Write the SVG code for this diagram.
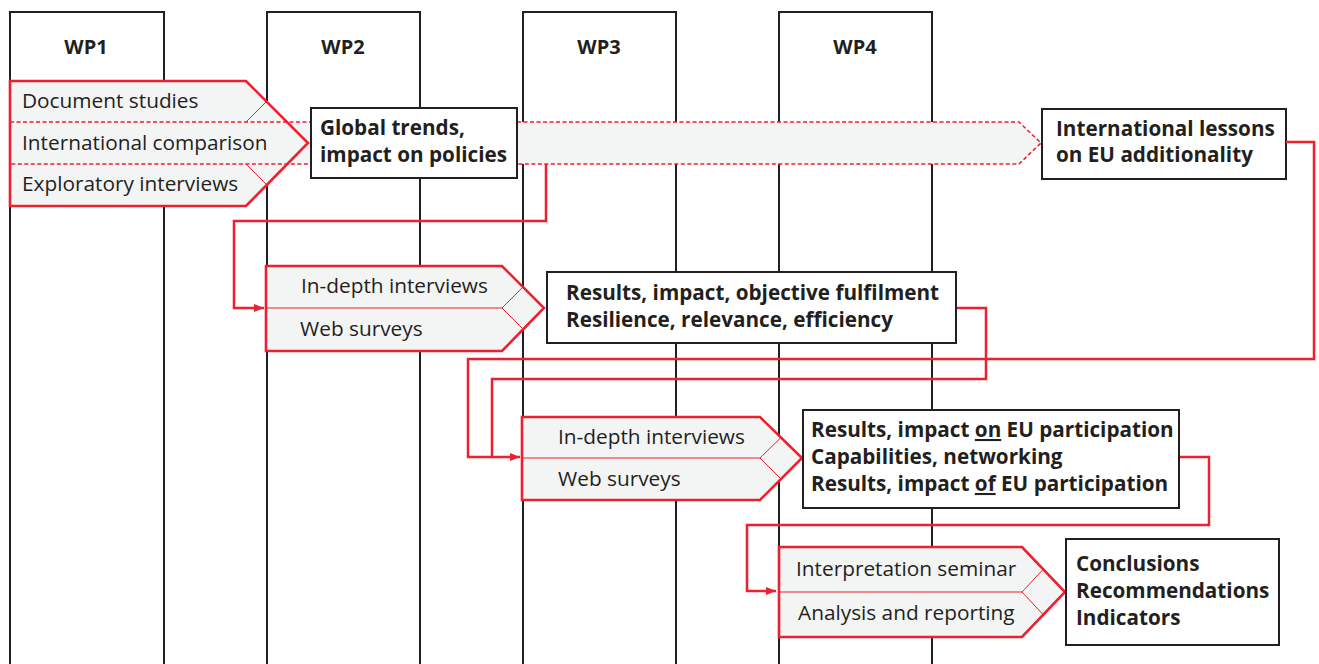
<svg xmlns="http://www.w3.org/2000/svg" width="1319" height="664" viewBox="0 0 1319 664">
<style>
.col{fill:none;stroke:#231f20;stroke-width:2}
.wp{font-family:"Open Sans","Noto Sans",sans-serif;font-weight:bold;font-size:20px;fill:#231f20;text-anchor:middle}
.chf{fill:#f3f4f4;stroke:none}
.cho{fill:none;stroke:#ed2030;stroke-width:2.6;stroke-linejoin:miter}
.chl{fill:none;stroke:#ed2030;stroke-width:1}
.band{fill:#f3f4f4;stroke:#ed2030;stroke-width:1.5;stroke-dasharray:4 2.5}
.reg{font-family:"Open Sans","Noto Sans",sans-serif;font-size:20.8px;fill:#231f20}
.bold{font-family:"Open Sans","Noto Sans",sans-serif;font-weight:bold;font-size:20.7px;fill:#231f20}
.box{fill:#fff;stroke:#231f20;stroke-width:2}
.con{fill:none;stroke:#ed2030;stroke-width:2.5}
.ul{text-decoration:underline}
</style>
<defs>
<marker id="ah" markerUnits="userSpaceOnUse" markerWidth="12" markerHeight="10" refX="10" refY="4" orient="auto">
<path d="M0,0 L10,4 L0,8 Z" fill="#ed2030"/>
</marker>
</defs>

<g id="columns">
<path class="col" d="M10,664 V12 H164 V664"/>
<path class="col" d="M267,664 V12 H420 V664"/>
<path class="col" d="M523,664 V12 H676 V664"/>
<path class="col" d="M779,664 V12 H932 V664"/>
<text class="wp" x="86" y="54">WP1</text>
<text class="wp" x="343" y="54">WP2</text>
<text class="wp" x="599" y="54">WP3</text>
<text class="wp" x="855" y="54">WP4</text>
</g>

<g id="wp1-activities">
<path class="chf" d="M10,81 H246 L308,143 L246,206 H10 Z"/>
</g>

<g id="band">
<path class="band" d="M10,122 H1019 L1041,143 L1019,164 H10 Z"/>
</g>

<g id="wp1-outline">
<path class="cho" d="M10,81 H246 L308,143 L246,206 H10 Z"/>
<path class="chl" d="M246,122 L266.5,101.5 M246,164 L267,185"/>
<text class="reg" x="22" y="108">Document studies</text>
<text class="reg" x="22" y="150">International comparison</text>
<text class="reg" x="22" y="191">Exploratory interviews</text>
</g>

<g id="global-trends">
<rect class="box" x="311" y="108" width="206" height="70"/>
<text class="bold" x="320" y="135">Global trends,</text>
<text class="bold" x="320" y="162">impact on policies</text>
</g>

<g id="intl-lessons">
<rect class="box" x="1042" y="109" width="244" height="70"/>
<text class="bold" x="1056" y="136">International lessons</text>
<text class="bold" x="1056" y="162">on EU additionality</text>
</g>

<g id="wp2-activities">
<path class="chf" d="M266,266 H502 L544,308 L502,351 H266 Z"/>
<path class="cho" d="M266,266 H502 L544,308 L502,351 H266 Z"/>
<path class="chl" d="M266,308 H502 L523,287 M502,308 L523,329"/>
<text class="reg" x="301" y="293">In-depth interviews</text>
<text class="reg" x="300" y="336">Web surveys</text>
</g>

<g id="wp3-activities">
<path class="chf" d="M522,417 H760 L802,458 L760,500 H522 Z"/>
<path class="cho" d="M522,417 H760 L802,458 L760,500 H522 Z"/>
<path class="chl" d="M522,458 H760 L781,437.5 M760,458 L781,479"/>
<text class="reg" x="558" y="444">In-depth interviews</text>
<text class="reg" x="558" y="486">Web surveys</text>
</g>

<g id="wp4-activities">
<path class="chf" d="M779,547 H1022 L1065,592 L1022,637 H779 Z"/>
<path class="cho" d="M779,547 H1022 L1065,592 L1022,637 H779 Z"/>
<path class="chl" d="M779,592 H1022 L1043,569.5 M1022,592 L1043,614.5"/>
<text class="reg" x="796" y="576">Interpretation seminar</text>
<text class="reg" x="798" y="620">Analysis and reporting</text>
</g>

<g id="connectors">
<path class="con" d="M546,164 V221 H234 V308 H264" marker-end="url(#ah)"/>
<path class="con" d="M1286,142 H1314 V359 H468 V457 H492"/>
<path class="con" d="M956,308 H986 V379 H492 V457 H520" marker-end="url(#ah)"/>
<path class="con" d="M1179,457 H1209 V525 H747 V591 H776" marker-end="url(#ah)"/>
</g>

<g id="results-wp2">
<rect class="box" x="547" y="272" width="409" height="71"/>
<text class="bold" x="566" y="300">Results, impact, objective fulfilment</text>
<text class="bold" x="566" y="327">Resilience, relevance, efficiency</text>
</g>

<g id="results-wp3">
<rect class="box" x="803" y="410" width="376" height="98"/>
<text class="bold" x="811" y="437">Results, impact <tspan class="ul">on</tspan> EU participation</text>
<text class="bold" x="811" y="464">Capabilities, networking</text>
<text class="bold" x="811" y="491">Results, impact <tspan class="ul">of</tspan> EU participation</text>
</g>

<g id="conclusions">
<rect class="box" x="1066" y="539" width="213" height="106"/>
<text class="bold" x="1076" y="571">Conclusions</text>
<text class="bold" x="1076" y="598">Recommendations</text>
<text class="bold" x="1076" y="625">Indicators</text>
</g>
</svg>
